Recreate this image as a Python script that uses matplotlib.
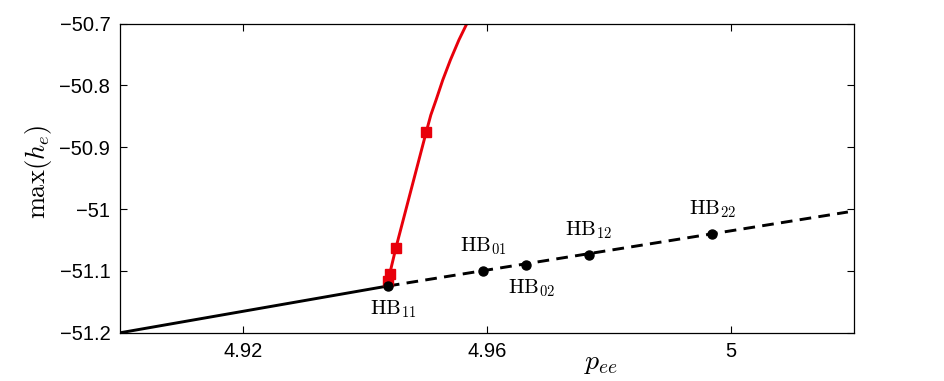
import matplotlib
matplotlib.use("Agg")
import matplotlib.pyplot as plt

plt.rcParams['mathtext.fontset'] = 'cm'
plt.rcParams['font.family'] = ['Liberation Sans', 'DejaVu Sans']

# stable branch (solid) and unstable branch (dashed)
stable_x = [4.900, 4.9438]
stable_y = [-51.200, -51.1245]
unstable_x = [4.9438, 5.0192]
unstable_y = [-51.1245, -51.0048]

# red periodic branch
red_x = [4.9438, 4.9439, 4.9441, 4.9451, 4.9476, 4.9501, 4.95084, 4.95170, 4.95280, 4.95405, 4.95544, 4.95677]
red_y = [-51.1245, -51.116, -51.105, -51.0635, -50.9692, -50.8750, -50.8480, -50.8237, -50.7913, -50.7590, -50.7267, -50.6997]
sq_x = [4.9439, 4.9441, 4.9451, 4.9501]
sq_y = [-51.116, -51.105, -51.0635, -50.8750]

# Hopf bifurcation points
hb_names = ['11', '01', '02', '12', '22']
hb_x = [4.9438, 4.9594, 4.9664, 4.9767, 4.9970]
hb_y = [-51.1245, -51.0997, -51.091, -51.0739, -51.0404]
hb_pos = ['below', 'above', 'below', 'above', 'above']

xticks = [4.92, 4.96, 5.0]
xticklabels = ['4.92', '4.96', '5']
yticks = [-51.2, -51.1, -51.0, -50.9, -50.8, -50.7]
yticklabels = ['\u221251.2', '\u221251.1', '\u221251', '\u221250.9', '\u221250.8', '\u221250.7']

fig = plt.figure(figsize=(9.45, 3.81), dpi=100)
ax = fig.add_axes([0.127, 0.1268, 0.7767, 0.8115])

ax.plot(stable_x, stable_y, color='black', lw=2.1, solid_capstyle='butt')
ax.plot(unstable_x, unstable_y, color='black', lw=2.1, dashes=(4, 2.5))
ax.plot(red_x, red_y, color='#e8000b', lw=2.1, solid_joinstyle='round')
ax.plot(sq_x, sq_y, 's', color='#e8000b', ms=6.5, mec='#e8000b')
ax.plot(hb_x, hb_y, 'o', color='black', ms=6.5, zorder=5)

for name, x, y, pos in zip(hb_names, hb_x, hb_y, hb_pos):
    label = r'$\mathrm{HB}_{' + name + '}$'
    if pos == 'above':
        ax.annotate(label, (x, y), xytext=(0, 10), textcoords='offset points',
                    ha='center', va='bottom', fontsize=15)
    else:
        ax.annotate(label, (x, y), xytext=(4, -9), textcoords='offset points',
                    ha='center', va='top', fontsize=15)

ax.set_xlim(4.8999, 5.0202)
ax.set_ylim(-51.2, -50.7)
ax.set_xticks(xticks)
ax.set_xticklabels(xticklabels)
ax.set_yticks(yticks)
ax.set_yticklabels(yticklabels)
ax.tick_params(direction='in', length=5, width=0.8, labelsize=14.5, top=True, right=True, pad=7)
for s in ax.spines.values():
    s.set_linewidth(0.9)

ax.set_xlabel(r'$p_{ee}$', fontsize=20)
ax.xaxis.set_label_coords(0.655, -0.055)
ax.set_ylabel(r'$\max(h_e)$', fontsize=19)
ax.yaxis.set_label_coords(-0.09, 0.52)

fig.savefig('out.png', dpi=100)
